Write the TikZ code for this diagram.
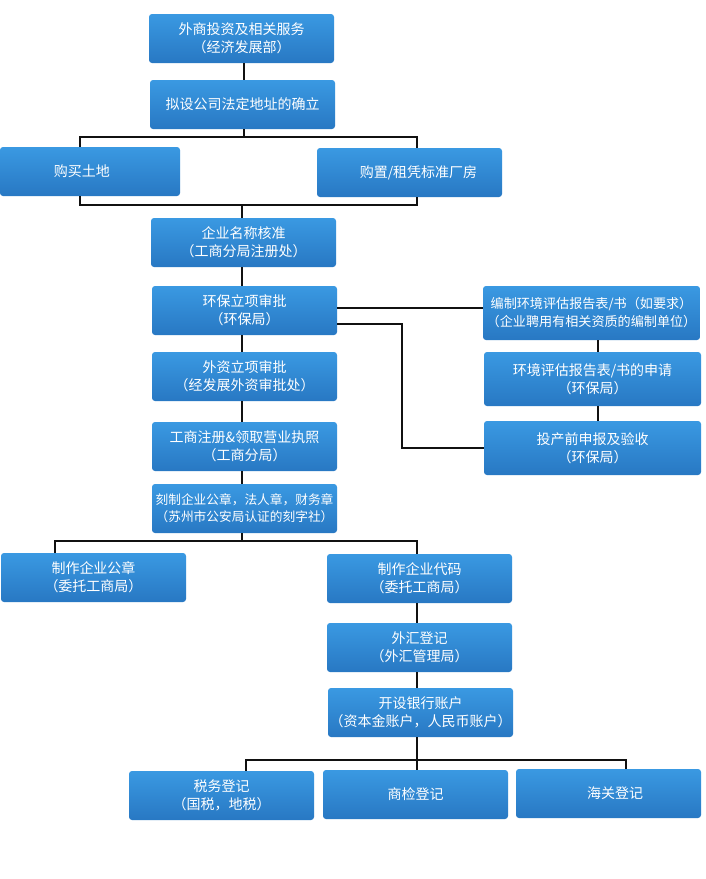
\documentclass[tikz,border=0pt]{standalone}
\usepackage{fontspec}
\setmainfont{Noto Sans CJK SC}
\definecolor{boxtop}{HTML}{3A99E2}
\definecolor{boxbot}{HTML}{2878C3}
\definecolor{linec}{HTML}{111111}
\tikzset{
  box/.style={rectangle, rounded corners=3pt, top color=boxtop, bottom color=boxbot,
    draw=none, text=white, align=center, inner sep=0pt,
    font=\fontsize{14}{18}\selectfont},
  conn/.style={draw=linec, line width=1.8pt}
}
\newcommand\bx[7][]{%
  \node[box, minimum width={#5pt-#3pt}, minimum height={#6pt-#4pt}, #1] (#2)
    at ({(#3+#5)/2},{(#4+#6)/2}) {#7};}
\begin{document}
\begin{tikzpicture}[x=1pt,y=-1pt]
\useasboundingbox[fill=white] (0,0) rectangle (705,879);
\bx{A}{149}{14}{334}{63}{外商投资及相关服务\\（经济发展部）}
\bx{B}{150}{80}{335}{129}{拟设公司法定地址的确立}
\bx[text width=170pt, align=center]{C}{0}{147}{180}{196}{\hspace*{-16pt}购买土地}
\bx{D}{317}{148}{502}{197}{\hspace*{18pt}购置/租凭标准厂房}
\bx{E}{151}{218}{336}{267}{企业名称核准\\（工商分局注册处）}
\bx{F}{152}{286}{337}{335}{环保立项审批\\（环保局）}
\bx{G}{152}{352}{337}{401}{外资立项审批\\（经发展外资审批处）}
\bx{H}{152}{422}{337}{471}{工商注册\&领取营业执照\\（工商分局）}
\bx[font=\fontsize{12.7}{17}\selectfont]{I}{152}{484}{337}{533}{刻制企业公章，法人章，财务章\\（苏州市公安局认证的刻字社）}
\bx[font=\fontsize{13.1}{18}\selectfont]{R1}{483}{286}{700}{340}{编制环境评估报告表/书（如要求）\\（企业聘用有相关资质的编制单位）}
\bx{R2}{484}{352}{701}{406}{环境评估报告表/书的申请\\（环保局）}
\bx{R3}{484}{421}{701}{475}{投产前申报及验收\\（环保局）}
\bx{J}{1}{553}{186}{602}{制作企业公章\\（委托工商局）}
\bx{K}{327}{554}{512}{603}{制作企业代码\\（委托工商局）}
\bx{L}{327}{623}{512}{672}{外汇登记\\（外汇管理局）}
\bx{M}{328}{688}{513}{737}{开设银行账户\\（资本金账户，人民币账户）}
\bx{N}{129}{771}{314}{820}{税务登记\\（国税，地税）}
\bx{O}{323}{770}{508}{819}{商检登记}
\bx{P}{516}{769}{701}{818}{\raisebox{-2pt}{\hspace*{13pt}海关登记}}
% coordinates
\coordinate (ax) at (244,0);
\coordinate (bl) at (80,137);
\coordinate (br) at (417,137);
\coordinate (cl) at (80,205);
\coordinate (cr) at (417,205);
\coordinate (ex) at (242,0);
\coordinate (fk) at (402,0);
\coordinate (rx) at (598,0);
\coordinate (il) at (55,541);
\coordinate (ir) at (417,541);
\coordinate (kx) at (417,0);
\coordinate (ml) at (246,760);
\coordinate (mr) at (626,760);
% connectors
\draw[conn] (ax |- A.south) -- (ax |- B.north);
\draw[conn] (ax |- B.south) -- (ax |- bl);
\draw[conn] (bl |- C.north) -- (bl) -- (br) -- (br |- D.north);
\draw[conn] (cl |- C.south) -- (cl) -- (cr) -- (cr |- D.south);
\draw[conn] (ex |- cl) -- (ex |- E.north);
\draw[conn] (ex |- E.south) -- (ex |- F.north);
\draw[conn] (ex |- F.south) -- (ex |- G.north);
\draw[conn] (ex |- G.south) -- (ex |- H.north);
\draw[conn] (ex |- H.south) -- (ex |- I.north);
\draw[conn] ([yshift=2.5pt]F.east) -- ([yshift=2.5pt]F.east -| R1.west);
\draw[conn] ([yshift=-13.5pt]F.east) -| (fk |- R3.west) -- (R3.west);
\draw[conn] (rx |- R1.south) -- (rx |- R2.north);
\draw[conn] (rx |- R2.south) -- (rx |- R3.north);
\draw[conn] (ex |- I.south) -- (ex |- il);
\draw[conn] (il |- J.north) -- (il) -- (ir) -- (ir |- K.north);
\draw[conn] (kx |- K.south) -- (kx |- L.north);
\draw[conn] (kx |- L.south) -- (kx |- M.north);
\draw[conn] (kx |- M.south) -- (kx |- O.north);
\draw[conn] (ml |- N.north) -- (ml) -- (mr) -- (mr |- P.north);
\end{tikzpicture}
\end{document}
